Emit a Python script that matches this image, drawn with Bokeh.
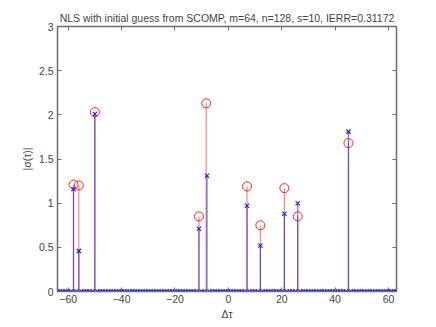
import numpy as np
from bokeh.plotting import figure
from bokeh.models import LinearAxis, FixedTicker, Range1d
from bokeh.embed import file_html
from bokeh.resources import INLINE

# Data
tau_grid = list(range(-64, 64))
spike_tau = [-58, -56, -50, -11, -8, 7, 12, 21, 26, 45]
true_tau = [-58, -56, -50, -11, -8.3, 7, 12, 21, 26, 45]
true_amp = [1.21, 1.20, 2.03, 0.85, 2.13, 1.19, 0.75, 1.17, 0.85, 1.68]
est_amp_spikes = [1.16, 0.46, 2.01, 0.71, 1.31, 0.97, 0.52, 0.88, 1.00, 1.81]

est_amp = [0.0] * len(tau_grid)
for t, a in zip(spike_tau, est_amp_spikes):
    est_amp[tau_grid.index(t)] = a

x_ticks = [-60, -40, -20, 0, 20, 40, 60]
y_ticks = [0, 0.5, 1, 1.5, 2, 2.5, 3]
y_tick_labels = ["0", "0.5", "1", "1.5", "2", "2.5", "3"]

FONT = "Liberation Sans"
AX = "#6e6e6e"

p = figure(width=428, height=322, output_backend="svg", toolbar_location=None,
           x_range=Range1d(-64, 63), y_range=Range1d(0, 3),
           min_border_left=57, min_border_right=32, min_border_top=26, min_border_bottom=28,
           title="NLS with initial guess from SCOMP, m=64, n=128, s=10, IERR=0.31172")
p.title.align = "center"
p.title.text_font = FONT
p.title.text_font_size = "10.5px"
p.title.text_font_style = "normal"
p.title.offset = 0
p.title.standoff = 6
p.grid.visible = False
p.outline_line_color = AX
p.outline_line_width = 1.5
p.background_fill_color = "white"
p.border_fill_color = "white"

# stems
p.segment(x0=true_tau, y0=[0]*len(true_tau), x1=true_tau, y1=true_amp,
          line_color="#ff3030", line_alpha=0.6, line_width=1.2)
p.segment(x0=tau_grid, y0=[0]*len(tau_grid), x1=tau_grid, y1=est_amp,
          line_color="#2020e0", line_alpha=0.65, line_width=1.2)
# markers
p.scatter(true_tau, true_amp, marker="circle", size=9, fill_color=None,
          line_color="#ff2020", line_width=1)
p.scatter(tau_grid, est_amp, marker="x", size=6, line_color="#1a1aff", line_width=1.1)

for ax in (p.xaxis[0], p.yaxis[0]):
    ax.axis_line_color = AX
    ax.major_tick_line_color = AX
    ax.major_tick_in = 4
    ax.major_tick_out = 0
    ax.minor_tick_line_color = None
    ax.major_label_text_font = FONT
    ax.major_label_text_font_size = "10.5px"
    ax.axis_label_text_font = FONT
    ax.axis_label_text_font_size = "10.5px"
    ax.axis_label_text_font_style = "normal"

p.xaxis[0].ticker = FixedTicker(ticks=x_ticks)
p.yaxis[0].ticker = FixedTicker(ticks=y_ticks)
p.yaxis[0].major_label_overrides = {t: l for t, l in zip(y_ticks, y_tick_labels)}
p.xaxis[0].axis_label = "Δτ"
p.yaxis[0].axis_label = "|σ(τ)|"
p.xaxis[0].major_label_standoff = 3
p.yaxis[0].major_label_standoff = 4
p.xaxis[0].axis_label_standoff = 2
p.yaxis[0].axis_label_standoff = 3

top = LinearAxis(ticker=FixedTicker(ticks=x_ticks))
right = LinearAxis(ticker=FixedTicker(ticks=y_ticks))
top.major_label_overrides = {t: "" for t in x_ticks}
right.major_label_overrides = {t: "" for t in y_ticks}
for ax in (top, right):
    ax.axis_line_color = AX
    ax.major_tick_line_color = AX
    ax.major_tick_in = 4
    ax.major_tick_out = 0
    ax.minor_tick_line_color = None
    ax.major_label_standoff = 0
p.add_layout(top, "above")
p.add_layout(right, "right")

open("out.html", "w").write(file_html(p, INLINE))
